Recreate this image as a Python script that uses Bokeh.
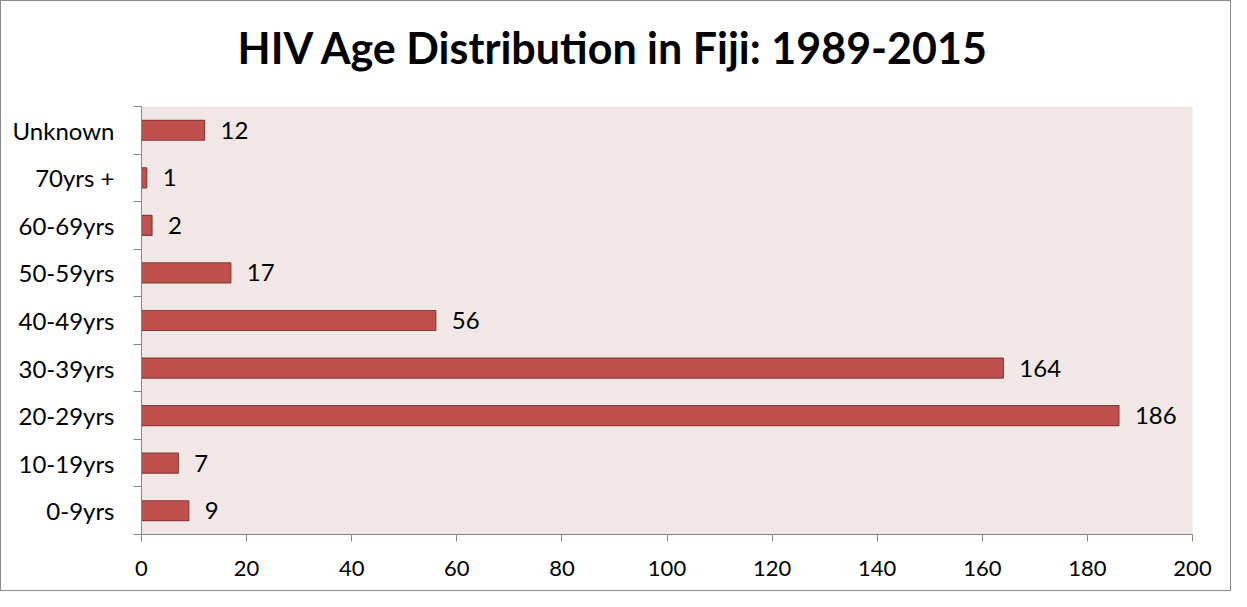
from bokeh.plotting import figure
from bokeh.models import Range1d, FixedTicker, ColumnDataSource, Title
from bokeh.core.properties import value
from bokeh.embed import file_html
from bokeh.resources import INLINE

title_text = "HIV Age Distribution in Fiji: 1989-2015"
categories = ["0-9yrs", "10-19yrs", "20-29yrs", "30-39yrs", "40-49yrs",
              "50-59yrs", "60-69yrs", "70yrs +", "Unknown"]
counts = [9, 7, 186, 164, 56, 17, 2, 1, 12]
x_ticks = [0, 20, 40, 60, 80, 100, 120, 140, 160, 180, 200]

FONT = "Lato"
ys = [i + 0.5 for i in range(len(categories))]
src = ColumnDataSource(dict(y=ys, v=counts, lab=[str(c) for c in counts]))

p = figure(width=1231, height=591, output_backend="svg", toolbar_location=None,
           x_range=Range1d(0, 200), y_range=Range1d(0, len(categories)),
           min_border_left=140, min_border_right=40, min_border_top=105,
           min_border_bottom=58)
p.title.visible = False

# small invisible spacer between frame and title
p.add_layout(Title(text=" ", text_font_size="1px", standoff=10,
                   text_color="white"), "above")
p.add_layout(Title(text=title_text, text_font=FONT, text_font_size="43px",
                   text_font_style="bold", text_color="black", align="left",
                   offset=96, standoff=38, vertical_align="top"), "above")

p.background_fill_color = "#F2E7E7"
p.border_fill_color = "white"
p.outline_line_color = None
p.xgrid.grid_line_color = None
p.ygrid.grid_line_color = None
p.styles = {"border": "1px solid #8a8a8a", "box-sizing": "border-box"}

p.hbar(y="y", right="v", left=0, height=0.42, source=src,
       fill_color="#C0504D", line_color="#8C3A38", line_width=1.2)
p.text(x="v", y="y", text="lab", source=src, x_offset=16,
       text_align="left", text_baseline="middle",
       text_font=value(FONT), text_font_size="24px", text_color="black")

xa = p.xaxis[0]
xa.ticker = FixedTicker(ticks=x_ticks, minor_ticks=[])
xa.axis_line_color = "#868686"
xa.major_tick_line_color = "#868686"
xa.major_tick_out = 7
xa.major_tick_in = 0
xa.minor_tick_line_color = None
xa.major_label_text_font = FONT
xa.major_label_text_font_size = "22px"
xa.major_label_text_color = "black"
xa.major_label_standoff = 19

ya = p.yaxis[0]
ya.ticker = FixedTicker(ticks=ys, minor_ticks=list(range(len(categories) + 1)))
ya.major_label_overrides = {y: c for y, c in zip(ys, categories)}
ya.axis_line_color = "#868686"
ya.major_tick_line_color = None
ya.major_tick_out = 0
ya.major_tick_in = 0
ya.minor_tick_line_color = "#868686"
ya.minor_tick_out = 8
ya.minor_tick_in = 0
ya.major_label_text_font = FONT
ya.major_label_text_font_size = "24px"
ya.major_label_text_color = "black"
ya.major_label_standoff = 19

open("out.html", "w").write(file_html(p, INLINE))
